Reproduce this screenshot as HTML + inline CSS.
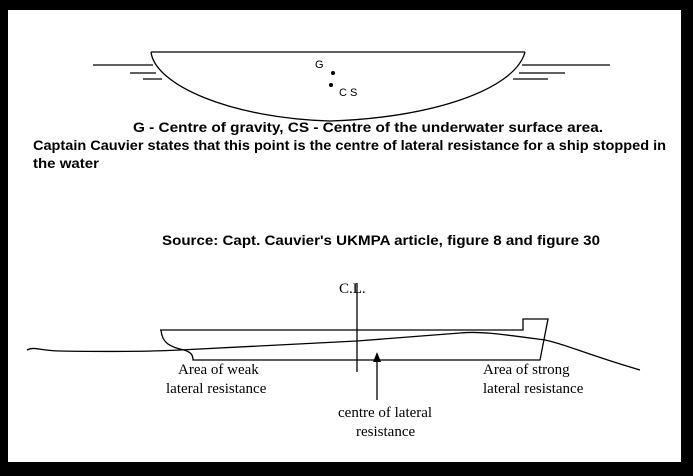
<!DOCTYPE html>
<html><head><style>
body{margin:0;width:693px;height:476px;background:#000;overflow:hidden}
#f{position:absolute;left:8px;top:10px;width:673px;height:452px;background:#fff}
svg{position:absolute;left:0;top:0}
</style></head><body>
<div id="f"></div>
<svg width="693" height="476" font-family="Liberation Serif" font-size="15">
<g fill="none" stroke="#000" stroke-width="1.3">
<path d="M151 52 L525 52"/>
<path d="M151 52 C155 85 230 118 330 121 C430 118 515 90 525 52"/>
<path d="M93 65 L153 65 M130 73 L156 73 M143 79 L162 79"/>
<path d="M522 65 L610 65 M519 73 L565 73 M513 79 L548 79"/>
<path d="M160 330 L523 330 L523 319 L548 319 L540 360 L193 360 C193 354 190 352 184 350 C170 347 162 343 161 330"/>
<path d="M357 283 L357 372"/>
<path d="M27 350 C35 346 40 351 60 351 C120 352 160 351 180 350 L357 341 L460 333 C480 331 500 334 545 340 C565 344 585 354 640 370"/>
<path d="M377 400 L377 362"/>
</g>
<polygon points="373,362 381,362 377,352" fill="#000"/>
<circle cx="333" cy="73" r="2" fill="#000"/><circle cx="331" cy="85" r="2" fill="#000"/>
<text x="315" y="68" font-family="Liberation Sans" font-size="11">G</text>
<text x="339" y="96" font-family="Liberation Sans" font-size="11">C S</text>
<text x="339" y="293">C.L.</text>
<text x="178" y="374">Area of weak</text>
<text x="166" y="393">lateral resistance</text>
<text x="483" y="374">Area of strong</text>
<text x="483" y="393">lateral resistance</text>
<text x="338" y="417">centre of lateral</text>
<text x="356" y="436">resistance</text>
<g font-family="Liberation Sans" font-weight="bold" font-size="13.5" lengthAdjust="spacingAndGlyphs">
<text x="133" y="132" textLength="470" lengthAdjust="spacingAndGlyphs">G - Centre of gravity, CS - Centre of the underwater surface area.</text>
<text x="33" y="150" textLength="633" lengthAdjust="spacingAndGlyphs">Captain Cauvier states that this point is the centre of lateral resistance for a ship stopped in</text>
<text x="33" y="168" textLength="66" lengthAdjust="spacingAndGlyphs">the water</text>
<text x="162" y="245" textLength="438" lengthAdjust="spacingAndGlyphs">Source: Capt. Cauvier's UKMPA article, figure 8 and figure 30</text>
</g>
</svg>
</body></html>
